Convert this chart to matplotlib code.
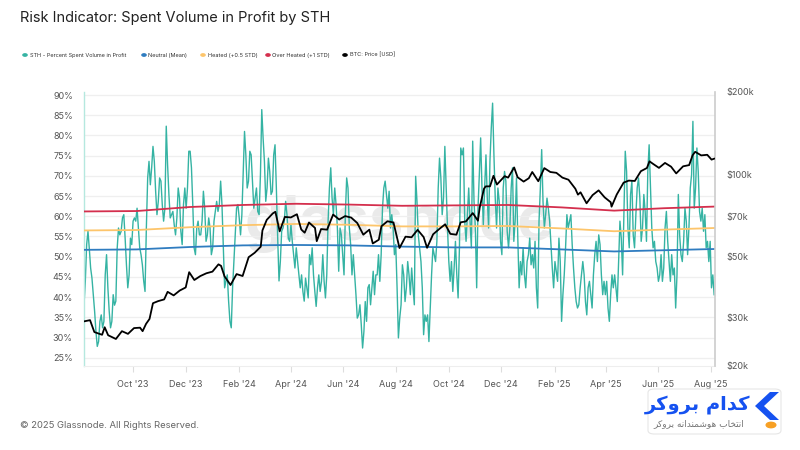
import numpy as np
import pandas as pd
import matplotlib
matplotlib.use("Agg")
import matplotlib.pyplot as plt
import matplotlib.dates as mdates
import matplotlib.ticker as mticker
from matplotlib.patches import FancyBboxPatch, Polygon, Circle

plt.rcParams['font.family'] = ['Inter', 'DejaVu Sans']

# ---------------- DATA ----------------
sth_start, sth_end = "2023-08-05", "2025-08-05"
sth_values = [
    # Aug - Dec 2023
    38, 44, 53, 56.3, 52, 47.2, 44.7, 40.6, 36.5, 31.5, 27.8, 29, 34, 35.6, 32.4, 34,
    45.5, 50.5, 42.3, 36.5, 32.4, 34, 40.6, 38, 39, 52, 57.1, 55.4, 56.3, 59.6, 60.4, 54.6,
    48, 42.3, 45.5, 54.6, 53, 58.8, 59.6, 58.8, 62, 57.1, 52.2, 50.5, 48, 44, 41.4, 57.1,
    69.5, 73.6, 67.8, 72, 77.3, 73.6, 66.2, 60.4, 63.7, 69.5, 68.7, 62.9, 58.8, 62, 82.3, 72.8,
    65.4, 59.6, 60.4, 61.2, 57.9, 55.4, 59.6, 67, 64.5, 56.3, 53, 62.9, 67, 62, 67, 76.1,
    # Dec 2023 - Apr 2024
    76.1, 72, 62.9, 52.2, 50.5, 57.1, 58.8, 55.4, 55.4, 58.8, 66.2, 62, 53.8, 55.4, 59.6, 57.1,
    50.5, 52.2, 58.8, 61.2, 63.7, 61.2, 62.9, 68.7, 62.9, 52.2, 42.3, 44, 45.5, 39, 34, 32.4,
    42.3, 48.8, 55.4, 62, 62.9, 59.6, 55.4, 60.4, 71.1, 81, 75.2, 67, 68.7, 76.1, 75.2, 68.7,
    62, 64.5, 67, 61.2, 60.4, 70.3, 86.4, 79.4, 73.6, 63.7, 67, 74.4, 71.1, 65.4, 66.2, 75.2,
    77.7, 67, 54.6, 44, 48.8, 56.3, 57.1, 58.8, 63.7, 60.4, 54.6, 53.8, 57.9, 53.8, 50.5, 47.2,
    # Apr - Aug 2024
    52.2, 48.8, 45.5, 42.3, 45.5, 41.4, 39, 44.7, 42.3, 39.8, 50.5, 48, 52.2, 45.5, 41.4, 37.7,
    42.3, 45.5, 41.4, 43.9, 50.5, 43.9, 39.8, 45.5, 58.8, 67, 72, 64.5, 60.4, 67, 62.9, 57.1,
    46.4, 57.1, 55.4, 50.5, 45.5, 60.4, 69.5, 67, 57.1, 53, 45.5, 50.5, 45.5, 40.6, 34.8, 35.6,
    38.1, 33.2, 27.4, 31.5, 38.9, 34, 42.3, 43.1, 38.1, 42.3, 46.4, 40.6, 45.5, 45.5, 50.5, 43.9,
    50.5, 62, 67, 68.7, 65.4, 62, 66.2, 57.1, 60.4, 57.1, 50.5, 53, 42.3, 29.9, 34.8, 38.1,
    # Aug - Dec 2024
    48, 45.5, 38.9, 42.3, 48.8, 45.5, 40.6, 47.2, 42.3, 38.1, 69.9, 63.7, 55.4, 52.2, 48.8, 42.3,
    30.7, 35.6, 34, 35.6, 29, 37.3, 45.5, 52.2, 50.5, 48.8, 53.8, 67, 74.4, 69.5, 60.4, 64.5,
    77.3, 67, 57.1, 48.8, 43.9, 48.8, 41.4, 47.2, 53.8, 45.5, 39.8, 52.2, 76.9, 75.2, 76.9, 58.8,
    53.8, 60.4, 67, 58.8, 52.2, 78.6, 63.7, 57.1, 42.3, 62, 70.3, 79.4, 67, 57.9, 67, 75.2,
    64.5, 57.1, 73.6, 81.8, 88, 75.2, 64.5, 57.1, 67, 63.7, 53.8, 50.5, 67, 71.1, 68.7, 56.3,
    # Dec 2024 - Apr 2025
    52.2, 57.1, 67, 72, 53.8, 58.8, 69.5, 54.6, 42.3, 48.8, 45.5, 52.2, 45.5, 42.3, 48.8, 50.5,
    54.6, 48, 50.5, 47.2, 53.8, 42.3, 37.3, 58.8, 67, 76.5, 63.7, 57.1, 60.4, 64.5, 62, 58.8,
    53, 47.2, 42.3, 48.8, 46.4, 43.9, 54.6, 48.8, 34, 40.6, 45.5, 52.2, 60.4, 57.1, 58.8, 60.4,
    53, 47.2, 42.3, 38.9, 37.3, 38.1, 42.3, 45.5, 48.8, 45.5, 38.9, 35.6, 42.3, 43.9, 40.6, 37.3,
    45.5, 50.5, 53.8, 48.8, 55.4, 53, 45.5, 40.6, 43.9, 40.6, 43.9, 37.3, 34, 40.6, 45.5, 42.3,
    # Apr - Aug 2025
    45.5, 42.3, 38.9, 48.8, 58.8, 54.6, 45.5, 60.4, 76.1, 71.1, 57.1, 52.2, 65.4, 68.7, 55.4, 52.2,
    60.4, 67, 69.5, 64.5, 53.8, 57.1, 65.4, 61.2, 53.8, 71.1, 77.7, 67, 57.1, 52.2, 53.8, 48.8,
    47.2, 43.9, 45.5, 50.5, 43.9, 47.2, 57.1, 61.2, 53.8, 48.8, 43.9, 50.5, 45.5, 47.2, 37.3, 45.5,
    65.4, 55.4, 50.5, 48.8, 53.8, 62, 58.8, 50.5, 57.1, 67, 70.3, 83.5, 62, 67, 76.9, 71.1,
    61.2, 58.8, 62, 56.3, 60.4, 52.2, 53.8, 48.8, 53.8, 42.3, 45.5, 40.6,
]

band_dates = ["2023-08-05", "2023-10-05", "2023-12-06", "2024-02-05", "2024-04-07",
              "2024-06-07", "2024-08-08", "2024-10-08", "2024-12-09", "2025-02-09",
              "2025-04-11", "2025-06-08", "2025-08-05"]
neutral_mean = [51.7, 51.8, 52.4, 52.8, 52.9, 52.8, 52.5, 52.3, 52.3, 51.8, 51.3, 51.6, 51.9]
heated_05std = [56.5, 56.6, 57.3, 57.8, 58.1, 57.9, 57.5, 57.5, 57.6, 57.0, 56.3, 56.7, 57.1]
overheated_1std = [61.2, 61.3, 62.3, 62.8, 63.1, 62.9, 62.6, 62.7, 62.8, 62.2, 61.4, 62.0, 62.4]

btc_dates = [
    "2023-08-05", "2023-08-12", "2023-08-17", "2023-08-26", "2023-08-29", "2023-09-02",
    "2023-09-11", "2023-09-18", "2023-09-25", "2023-10-02", "2023-10-09", "2023-10-12",
    "2023-10-16", "2023-10-20", "2023-10-24", "2023-10-30", "2023-11-06", "2023-11-10",
    "2023-11-17", "2023-11-24", "2023-12-01", "2023-12-05", "2023-12-11", "2023-12-18",
    "2023-12-25", "2024-01-01", "2024-01-08", "2024-01-11", "2024-01-15", "2024-01-22",
    "2024-01-29", "2024-02-05", "2024-02-12", "2024-02-19", "2024-02-26", "2024-02-28",
    "2024-03-04", "2024-03-11", "2024-03-14", "2024-03-19", "2024-03-25", "2024-04-01",
    "2024-04-08", "2024-04-13", "2024-04-17", "2024-04-22", "2024-04-29", "2024-05-01",
    "2024-05-06", "2024-05-13", "2024-05-20", "2024-05-27", "2024-06-03", "2024-06-10",
    "2024-06-17", "2024-06-24", "2024-07-01", "2024-07-05", "2024-07-12", "2024-07-15",
    "2024-07-22", "2024-07-29", "2024-08-05", "2024-08-12", "2024-08-19", "2024-08-26",
    "2024-09-02", "2024-09-06", "2024-09-13", "2024-09-20", "2024-09-27", "2024-10-03",
    "2024-10-10", "2024-10-15", "2024-10-21", "2024-10-29", "2024-11-04", "2024-11-06",
    "2024-11-11", "2024-11-13", "2024-11-18", "2024-11-22", "2024-11-26", "2024-12-05",
    "2024-12-09", "2024-12-16", "2024-12-20", "2024-12-27", "2025-01-02", "2025-01-06",
    "2025-01-13", "2025-01-20", "2025-01-27", "2025-02-03", "2025-02-10", "2025-02-17",
    "2025-02-25", "2025-02-28", "2025-03-03", "2025-03-10", "2025-03-17", "2025-03-24",
    "2025-03-31", "2025-04-07", "2025-04-08", "2025-04-14", "2025-04-22", "2025-04-28",
    "2025-05-05", "2025-05-12", "2025-05-19", "2025-05-22", "2025-05-26", "2025-06-02",
    "2025-06-09", "2025-06-16", "2025-06-22", "2025-06-30", "2025-07-07", "2025-07-11",
    "2025-07-14", "2025-07-21", "2025-07-28", "2025-08-02", "2025-08-05",
]
btc_price = [
    29.1, 29.4, 26.6, 26.0, 27.7, 25.9, 25.1, 26.8, 26.2, 27.5, 27.6, 26.8,
    28.5, 29.7, 33.9, 34.5, 35.0, 37.3, 36.2, 37.7, 38.7, 44.0, 41.2, 42.6,
    43.6, 44.2, 47.0, 46.4, 42.5, 39.5, 43.3, 42.6, 49.9, 51.8, 54.5, 62.5,
    68.3, 72.1, 73.1, 62.0, 70.0, 69.7, 71.6, 63.0, 61.3, 66.8, 63.8, 57.1,
    63.2, 62.9, 71.4, 68.5, 70.5, 69.6, 66.5, 60.3, 62.9, 56.0, 57.8, 64.7,
    67.5, 66.8, 53.9, 59.3, 59.0, 62.8, 59.1, 54.0, 60.5, 63.2, 65.8, 60.7,
    60.3, 66.9, 67.4, 72.3, 67.8, 75.6, 88.7, 90.5, 90.5, 98.9, 91.9, 98.6,
    97.4, 106.1, 97.7, 94.2, 96.9, 102.1, 94.5, 105.5, 102.1, 101.4, 97.4, 95.7,
    88.7, 84.4, 86.1, 78.5, 84.1, 87.5, 82.5, 79.2, 76.3, 84.5, 93.4, 95.0,
    94.7, 102.8, 105.6, 111.7, 109.4, 105.7, 110.2, 106.8, 100.9, 107.1, 108.2, 117.5,
    121.0, 117.4, 118.0, 113.3, 114.2,
]  # thousand USD

pct_ticks = [25, 30, 35, 40, 45, 50, 55, 60, 65, 70, 75, 80, 85, 90]
price_ticks = [20000, 30000, 50000, 70000, 100000, 200000]
price_tick_labels = ["$20k", "$30k", "$50k", "$70k", "$100k", "$200k"]

# ---------------- PLOT ----------------
sth_dates = pd.date_range(sth_start, sth_end, periods=len(sth_values))
bdates = pd.to_datetime(band_dates)
pdates = pd.to_datetime(btc_dates)
prices = np.array(btc_price) * 1000

C_TEAL = "#35b3a3"
C_BLUE = "#2f7cc0"
C_ORANGE = "#fdc56b"
C_RED = "#d42f4d"
C_GRID = "#efefef"
C_TXT = "#555555"

fig = plt.figure(figsize=(8, 4.5), dpi=100)
fig.patch.set_facecolor("white")
ax = fig.add_axes([84 / 800, 1 - 366 / 450, 631 / 800, 274 / 450])
ax.set_facecolor("none")

# faint watermark behind the data
ax.text(0.5, 0.52, "glassnode", transform=ax.transAxes, ha="center", va="center",
        fontsize=44, color="#eaeaea", fontweight="bold", zorder=0.5)

ax.plot(sth_dates, sth_values, color=C_TEAL, lw=1.0, zorder=2)
ax.plot(bdates, neutral_mean, color=C_BLUE, lw=1.3, zorder=3)
ax.plot(bdates, heated_05std, color=C_ORANGE, lw=1.3, zorder=3)
ax.plot(bdates, overheated_1std, color=C_RED, lw=1.3, zorder=3)

ax.set_ylim(22.95, 90.76)
ax.set_xlim(pd.Timestamp("2023-08-05"), pd.Timestamp("2025-08-06"))
ax.set_yticks(pct_ticks)
ax.yaxis.set_major_formatter(mticker.FuncFormatter(lambda v, p: f"{v:.0f}%"))
ax.grid(axis="y", color=C_GRID, lw=0.9, zorder=0)
ax.set_axisbelow(True)
ax.xaxis.set_major_locator(mdates.MonthLocator(bymonth=[2, 4, 6, 8, 10, 12]))
ax.xaxis.set_major_formatter(mdates.DateFormatter("%b '%y"))
ax.tick_params(axis="x", length=4, color="#dddddd", labelsize=6.5, labelcolor=C_TXT, pad=6)
ax.tick_params(axis="y", length=0, labelsize=6.5, labelcolor=C_TXT, pad=8)
for s in ["top", "right"]:
    ax.spines[s].set_visible(False)
ax.spines["left"].set_color("#b5e8df")
ax.spines["left"].set_linewidth(1.0)
ax.spines["bottom"].set_color("#eeeeee")

ax2 = ax.twinx()
ax2.plot(pdates, prices, color="black", lw=1.3, zorder=4)
ax2.set_yscale("log")
ax2.set_ylim(20000, 200000)
ax2.yaxis.set_major_locator(mticker.FixedLocator(price_ticks))
ax2.yaxis.set_minor_locator(mticker.NullLocator())
ax2.yaxis.set_major_formatter(mticker.FixedFormatter(price_tick_labels))
ax2.tick_params(axis="y", length=0, labelsize=6.5, labelcolor=C_TXT, pad=8)
for s in ["top", "left", "bottom"]:
    ax2.spines[s].set_visible(False)
ax2.spines["right"].set_color("#cccccc")
ax2.spines["right"].set_linewidth(1.2)

# title
fig.text(20 / 800, 1 - 18 / 450, "Risk Indicator: Spent Volume in Profit by STH",
         fontsize=10.5, color="#222222", va="center", ha="left")

# legend
legend_items = [("STH - Percent Spent Volume in Profit", C_TEAL, 25),
                ("Neutral (Mean)", C_BLUE, 144),
                ("Heated (+0.5 STD)", C_ORANGE, 203),
                ("Over Heated (+1 STD)", C_RED, 268),
                ("BTC: Price [USD]", "black", 345)]
for label, col, xp in legend_items:
    fig.patches.append(Circle((xp / 800, 1 - 55 / 450), 0.0026, transform=fig.transFigure,
                              color=col, zorder=5))
    fig.text((xp + 4.5) / 800, 1 - 55 / 450, label, fontsize=4.0, color="#333333",
             va="center", ha="left")

# footer
fig.text(20 / 800, 1 - 426 / 450, "\u00a9 2025 Glassnode. All Rights Reserved.",
         fontsize=6.8, color="#666666", va="center", ha="left")

# logo box
box = FancyBboxPatch((648 / 800, 1 - 434 / 450), 133 / 800, 45 / 450,
                     boxstyle="round,pad=0,rounding_size=0.008", transform=fig.transFigure,
                     facecolor="white", edgecolor="#e6e6e6", lw=0.8, zorder=5)
fig.patches.append(box)
chev = [(770, 392), (779, 392), (764, 406), (779, 420), (770, 420), (755, 406)]
fig.patches.append(Polygon([(x / 800, 1 - y / 450) for x, y in chev], closed=True,
                           transform=fig.transFigure, facecolor="#1652f0", zorder=6))
fig.patches.append(Circle((771 / 800, 1 - 425 / 450), 0.006, transform=fig.transFigure,
                          color="#f7a024", zorder=6))
fig.text(750 / 800, 1 - 405 / 450,
         "\uFEAE\uFB90\uFEED\uFEAE\uFE91 \uFEE1\uFE8D\uFEAA\uFB90",
         fontsize=14, color="#1652f0", fontweight="bold", family=["DejaVu Sans"],
         ha="right", va="center", zorder=7)
fig.text(744 / 800, 1 - 424 / 450,
         "\uFEAE\uFB90\uFEED\uFEAE\uFE91 \uFEEA\uFEE7\uFE8D\uFEAA\uFEE8\uFEE4\uFEB7\uFEEE\uFEEB \uFE8F\uFE8E\uFEA8\uFE98\uFEE7\uFE8D",
         fontsize=6.5, color="#777777", family=["DejaVu Sans"],
         ha="right", va="center", zorder=7)

fig.savefig("out.png", dpi=100, facecolor="white")
